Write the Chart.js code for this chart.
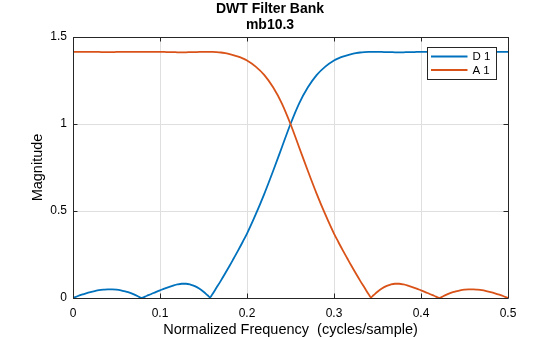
<!DOCTYPE html>
<html>
<head>
<meta charset="utf-8">
<script src="https://cdn.jsdelivr.net/npm/chart.js@4"></script>
<style>
html,body{margin:0;padding:0;background:#fff;}
#wrap{width:560px;height:337px;position:relative;}
</style>
</head>
<body>
<div id="wrap"><canvas id="c" width="560" height="337"></canvas></div>
<script>
const titleLines = ["DWT Filter Bank", "mb10.3"];
const xLabel = "Normalized Frequency  (cycles/sample)";
const yLabel = "Magnitude";
const seriesNames = ["D 1", "A 1"];
const xTicks = [0, 0.1, 0.2, 0.3, 0.4, 0.5];
const yTicks = [0, 0.5, 1, 1.5];

const freq = [
  0, .005, .01, .015, .02, .025, .03, .035, .04, .045, .05, .055, .06, .065, .07, .075, .0785,
  .085, .09, .095, .10, .105, .11, .115, .12, .125, .13, .135, .14, .145, .15, .155, .1575,
  .16, .165, .17, .175, .18, .185, .19, .195,
  .20, .21, .22, .23, .24,
  .25,
  .26, .27, .28, .29, .30,
  .305, .31, .315, .32, .325, .33, .335, .34, .3425,
  .345, .35, .355, .36, .365, .37, .375, .38, .385, .39, .395, .40, .405, .41, .415, .4215,
  .425, .43, .435, .44, .445, .45, .455, .46, .465, .47, .475, .48, .485, .49, .495, .50
];

const d1 = [
  0, .010, .019, .027, .034, .040, .045, .048, .050, .050, .048, .044, .038, .031, .021, .009, 0,
  .013, .023, .034, .044, .054, .063, .071, .078, .082, .082, .077, .068, .054, .036, .014, .004,
  .02, .06, .10, .142, .185, .23, .275, .322,
  .37, .48, .60, .73, .865,
  1.0,
  1.119, 1.211, 1.281, 1.330, 1.365,
  1.377, 1.387, 1.395, 1.402, 1.407, 1.411, 1.413, 1.414, 1.414,
  1.414, 1.414, 1.414, 1.413, 1.413, 1.412, 1.412, 1.412, 1.413, 1.413, 1.414, 1.414, 1.414, 1.414, 1.414, 1.414,
  1.414, 1.414, 1.414, 1.414, 1.414, 1.414, 1.413, 1.413, 1.413, 1.414, 1.414, 1.414, 1.414, 1.414, 1.414, 1.414
];

const a1 = [
  1.414, 1.414, 1.414, 1.414, 1.414, 1.414, 1.414, 1.413, 1.413, 1.413, 1.414, 1.414, 1.414, 1.414, 1.414, 1.414, 1.414,
  1.414, 1.414, 1.414, 1.414, 1.414, 1.413, 1.413, 1.412, 1.412, 1.412, 1.413, 1.413, 1.414, 1.414, 1.414, 1.414,
  1.414, 1.413, 1.411, 1.407, 1.402, 1.395, 1.387, 1.377,
  1.365, 1.330, 1.281, 1.211, 1.119,
  1.0,
  .865, .73, .60, .48, .37,
  .322, .275, .23, .185, .142, .10, .06, .02, .004,
  .014, .036, .054, .068, .077, .082, .082, .078, .071, .063, .054, .044, .034, .023, .013, 0,
  .009, .021, .031, .038, .044, .048, .050, .050, .048, .045, .040, .034, .027, .019, .010, 0
];

const colors = ["#0072BD", "#D95319"];
const FONT = "'Liberation Sans', Arial, Helvetica, sans-serif";
const AXIS = "#262626";

function pts(ys) { return freq.map((f, i) => ({x: f, y: ys[i]})); }

const frameAndTicks = {
  id: 'frameAndTicks',
  afterDatasetsDraw(chart) {
    const {ctx, chartArea: a, scales} = chart;
    ctx.save();
    ctx.strokeStyle = AXIS;
    ctx.lineWidth = 1;
    ctx.beginPath();
    const L = 4.5;
    xTicks.forEach(t => {
      const x = Math.round(scales.x.getPixelForValue(t)) + 0.5;
      ctx.moveTo(x, a.bottom); ctx.lineTo(x, a.bottom - L);
      ctx.moveTo(x, a.top); ctx.lineTo(x, a.top + L);
    });
    yTicks.forEach(t => {
      const y = Math.round(scales.y.getPixelForValue(t)) + 0.5;
      ctx.moveTo(a.left, y); ctx.lineTo(a.left + L, y);
      ctx.moveTo(a.right, y); ctx.lineTo(a.right - L, y);
    });
    ctx.stroke();
    ctx.beginPath();
    const l = Math.round(a.left) + 0.5, r = Math.round(a.right) + 0.5;
    const t = Math.round(a.top) + 0.5, b = Math.round(a.bottom) + 0.5;
    ctx.rect(l, t, r - l, b - t);
    ctx.stroke();
    ctx.restore();
  },
  afterDraw(chart) {
    const {ctx, chartArea: a} = chart;
    ctx.save();
    ctx.fillStyle = "#000";
    ctx.font = "bold 14px " + FONT;
    ctx.textAlign = "center";
    ctx.textBaseline = "middle";
    titleLines.forEach((s, i) => ctx.fillText(s, 270, 9.5 + i * 16));
    const w = 69, h = 32;
    const x0 = Math.round(a.right) - 12 - w + 0.5;
    const y0 = Math.round(a.top) + 10 + 0.5;
    ctx.textAlign = "left";
    ctx.fillStyle = "#fff";
    ctx.fillRect(x0, y0, w, h);
    ctx.strokeStyle = AXIS;
    ctx.lineWidth = 1;
    ctx.strokeRect(x0, y0, w, h);
    ctx.font = "11.5px " + FONT;
    chart.data.datasets.forEach((ds, i) => {
      const yy = y0 + 9 + i * 13.5;
      ctx.strokeStyle = ds.borderColor;
      ctx.lineWidth = 2;
      ctx.beginPath();
      ctx.moveTo(x0 + 3.5, yy); ctx.lineTo(x0 + 40, yy);
      ctx.stroke();
      ctx.fillStyle = "#000";
      ctx.fillText(ds.label, x0 + 45, yy + 0.5);
    });
    ctx.restore();
  }
};

new Chart(document.getElementById('c'), {
  type: 'line',
  data: {
    datasets: [
      {label: seriesNames[0], data: pts(d1), borderColor: colors[0], backgroundColor: colors[0], borderWidth: 1.8, pointRadius: 0, cubicInterpolationMode: 'monotone', order: 2},
      {label: seriesNames[1], data: pts(a1), borderColor: colors[1], backgroundColor: colors[1], borderWidth: 1.8, pointRadius: 0, cubicInterpolationMode: 'monotone', order: 1}
    ]
  },
  options: {
    responsive: false,
    animation: false,
    events: [],
    layout: {padding: {left: 0, right: 52, top: 37, bottom: 0}},
    plugins: {
      legend: {display: false},
      tooltip: {enabled: false},
      title: {display: false}
    },
    scales: {
      x: {
        type: 'linear', min: 0, max: 0.5,
        afterBuildTicks(s) { s.ticks = xTicks.map(v => ({value: v})); },
        afterFit(s) { s.height = 39; },
        ticks: {color: "#000", font: {family: FONT, size: 12}, padding: 8, maxRotation: 0,
                callback: v => String(v)},
        grid: {color: "#dfdfdf", drawTicks: false, lineWidth: 1},
        border: {display: false},
        title: {display: true, text: xLabel, color: "#000", font: {family: FONT, size: 14.5, lineHeight: 1.0}, padding: {top: 4, bottom: 0}}
      },
      y: {
        type: 'linear', min: 0, max: 1.5,
        afterBuildTicks(s) { s.ticks = yTicks.map(v => ({value: v})); },
        afterFit(s) { s.width = 73; },
        ticks: {color: "#000", font: {family: FONT, size: 12}, padding: 6, callback: v => String(v)},
        grid: {color: "#dfdfdf", drawTicks: false, lineWidth: 1},
        border: {display: false},
        title: {display: true, text: yLabel, color: "#000", font: {family: FONT, size: 14.5}, padding: {top: 29, bottom: 0}}
      }
    }
  },
  plugins: [frameAndTicks]
});
</script>
</body>
</html>
